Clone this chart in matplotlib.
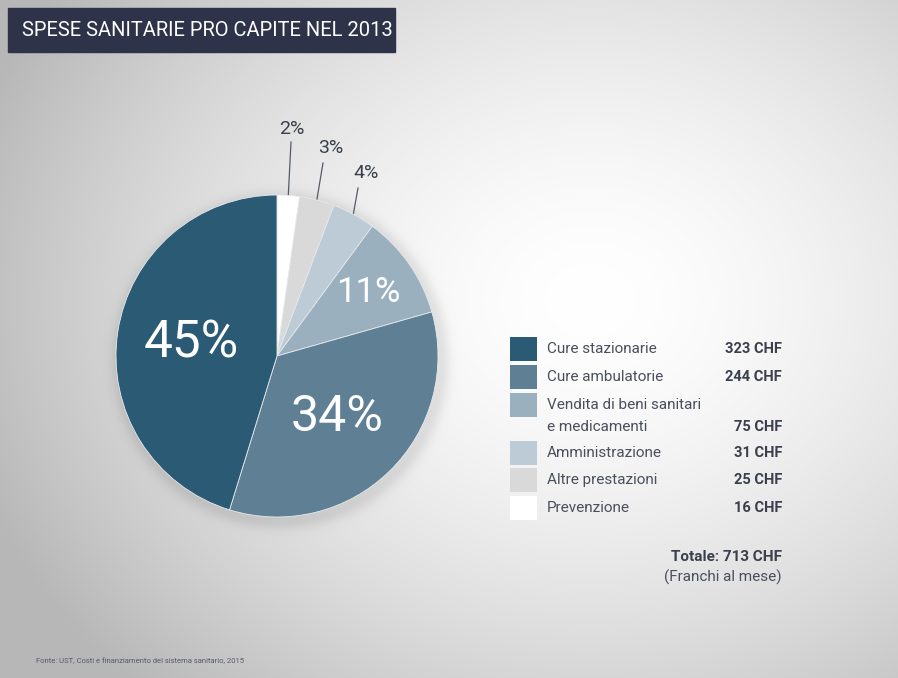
import numpy as np
import matplotlib.pyplot as plt
from matplotlib.patches import Rectangle

# Spese sanitarie pro capite (CHF al mese), ordine della legenda
categories = ['Cure stazionarie', 'Cure ambulatorie',
              'Vendita di beni sanitari\ne medicamenti',
              'Amministrazione', 'Altre prestazioni', 'Prevenzione']
chf = [323, 244, 75, 31, 25, 16]
pct_labels = ['45%', '34%', '11%', '4%', '3%', '2%']
value_labels = ['323 CHF', '244 CHF', '75 CHF', '31 CHF', '25 CHF', '16 CHF']
total_label = 'Totale: 713 CHF'
colors = ['#2a5a74', '#5f8094', '#9bb0bf', '#bccbd6', '#d9d9d9', '#ffffff']

W, H = 898, 678
fig = plt.figure(figsize=(W / 100, H / 100), dpi=100)
plt.rcParams['font.family'] = ['Roboto', 'DejaVu Sans']

# background: radial gradient plus a soft shadow under the pie
bg = fig.add_axes([0, 0, 1, 1])
yy, xx = np.mgrid[0:H, 0:W]
d = np.sqrt(((xx - 590) / 520.0) ** 2 + ((yy - 300) / 430.0) ** 2)
img = 255 - 50 * np.clip(d, 0, 1.25) ** 1.6
rs = np.sqrt((xx - 280) ** 2 + (yy - 360) ** 2)
img -= 22 * np.exp(-np.clip(rs - 160, 0, None) ** 2 / (2 * 7.0 ** 2)) * (rs > 150)
img = np.clip(img, 0, 255) / 255.0
bg.imshow(np.dstack([img, img, img]), extent=[0, W, H, 0], aspect='auto')
bg.set_xlim(0, W)
bg.set_ylim(H, 0)
bg.axis('off')

# title box
bg.add_patch(Rectangle((8, 8), 387, 44, color='#2e3349', zorder=3))
bg.text(22, 31, 'SPESE SANITARIE PRO CAPITE NEL 2013', color='white',
        fontsize=14.5, va='center', ha='left', zorder=4)

# pie
cx, cy, r = 277, 356, 161
pie_ax = fig.add_axes([(cx - r) / W, (H - cy - r) / H, 2 * r / W, 2 * r / H])
vals = chf[::-1]
wedges, _ = pie_ax.pie(vals, colors=colors[::-1], startangle=90, counterclock=False,
                       radius=1.0, wedgeprops=dict(linewidth=0.6, edgecolor='#e6e9ec'))
pie_ax.set_xlim(-1, 1)
pie_ax.set_ylim(-1, 1)
pie_ax.set_aspect('auto')
pie_ax.axis('off')
pie_ax.set_clip_on(False)

# inside labels (stazionarie, ambulatorie, vendita)
inner = {0: (0.54, 37), 1: (0.53, 36), 2: (0.69, 25)}
for i, (rad, fs) in inner.items():
    w = wedges[len(vals) - 1 - i]
    ang = np.deg2rad((w.theta1 + w.theta2) / 2)
    pie_ax.text(rad * np.cos(ang), rad * np.sin(ang), pct_labels[i], color='white',
                fontsize=fs, ha='center', va='center')

# outside labels with leader lines (small slices)
outer = {5: (292, 129, 291, 142), 4: (331, 148, 323, 163), 3: (366, 173, 358, 188)}
for i, (tx, ty, lx, ly) in outer.items():
    w = wedges[len(vals) - 1 - i]
    ang = np.deg2rad((w.theta1 + w.theta2) / 2)
    ex, ey = cx + 0.99 * r * np.cos(ang), cy - 0.99 * r * np.sin(ang)
    bg.plot([ex, lx], [ey, ly], color='#555b66', lw=0.9, zorder=5)
    bg.text(tx, ty, pct_labels[i], color='#3a3f4c', fontsize=14,
            ha='center', va='center', zorder=5)

# legend
rows_y = [349, 377, 405, 453, 480, 508]
for i, (name, y) in enumerate(zip(categories, rows_y)):
    bg.add_patch(Rectangle((510, y - 12), 27, 24, facecolor=colors[i],
                           edgecolor='none', zorder=4))
    lines = name.split('\n')
    for k, line in enumerate(lines):
        bg.text(547, y + 22 * k, line, color='#4a4f5c', fontsize=11,
                ha='left', va='center', zorder=4)
    bg.text(782, y + 22 * (len(lines) - 1), value_labels[i], color='#3a3f4c',
            fontsize=10.5, fontweight='bold', ha='right', va='center', zorder=4)

bg.text(782, 557, total_label, color='#3a3f4c', fontsize=11, fontweight='bold',
        ha='right', va='center')
bg.text(782, 577, '(Franchi al mese)', color='#4a4f5c', fontsize=11,
        ha='right', va='center')

bg.text(36, 661, 'Fonte: UST, Costi e finanziamento del sistema sanitario, 2015',
        color='#555b66', fontsize=5.5, ha='left', va='center')

fig.savefig('out.png', dpi=100)
